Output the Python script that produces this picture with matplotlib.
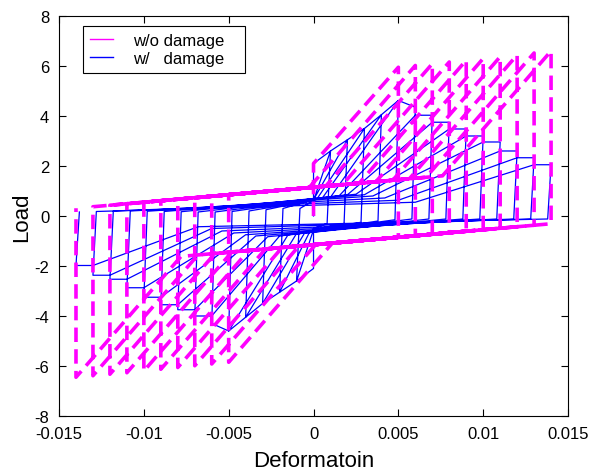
import matplotlib
matplotlib.use("Agg")
import matplotlib.pyplot as plt
from matplotlib.lines import Line2D

plt.rcParams["font.family"] = ["Liberation Sans", "DejaVu Sans"]
plt.rcParams["axes.unicode_minus"] = False

# ---- w/o damage (bilinear slip model), one cycle per amplitude ----
mag_amp = [0.005, 0.006, 0.007, 0.008, 0.009, 0.010, 0.011, 0.012, 0.013, 0.014]
mag_pos_peak = [5.95, 6.02, 6.09, 6.16, 6.23, 6.30, 6.37, 6.44, 6.52, 6.60]
mag_neg_peak = [-5.85, -5.92, -5.99, -6.06, -6.13, -6.20, -6.27, -6.33, -6.39, -6.45]
# point on the slip line where reloading toward the peak starts
mag_pos_start_x = [0.0, -0.00026, 0.00072, 0.00171, 0.00269, 0.00368, 0.00467, 0.00565, 0.00663, 0.0076]
mag_pos_start_y = [2.1, 1.134, 1.193, 1.253, 1.311, 1.371, 1.430, 1.489, 1.548, 1.606]
mag_neg_start_x = [0.00111, 0.000125, -0.00086, -0.00185, -0.00283, -0.00382, -0.00481, -0.00581, -0.00681, -0.00781]
mag_neg_start_y = [-1.083, -1.142, -1.202, -1.261, -1.320, -1.379, -1.438, -1.498, -1.558, -1.618]
# load reached after (vertical) unloading, magnitude
mag_res = [0.85, 0.79, 0.73, 0.67, 0.61, 0.55, 0.49, 0.43, 0.37, 0.31]

# ---- w/ damage (pinched, strength degrading) ----
blue_amp = [0.001, 0.002, 0.003, 0.004, 0.005, 0.006, 0.007, 0.008, 0.009,
            0.010, 0.011, 0.012, 0.013, 0.014]
blue_pos_peak = [2.6, 3.05, 3.5, 4.05, 4.62, 4.35, 4.03, 3.75, 3.48, 3.2, 2.96, 2.6, 2.33, 2.05]
blue_pos_reload = [2.1, 2.6, 3.05, 3.5, 4.05, 4.62, 4.03, 3.75, 3.48, 3.2, 2.96, 2.6, 2.33, 2.05]
blue_neg_peak = [-2.6, -3.05, -3.5, -4.05, -4.6, -4.3, -4.0, -3.75, -3.55, -3.25, -2.87, -2.53, -2.37, -1.98]
blue_neg_reload = [-2.1, -2.6, -3.05, -3.5, -4.05, -4.6, -4.0, -3.75, -3.55, -3.25, -2.87, -2.53, -2.37, -1.98]
blue_pos_pinch_x = [0.0, 0.0, 0.0, 0.0002, 0.0005, 0.001, 0.0015, 0.002, 0.0025, 0.003, 0.0035, 0.0042, 0.005, 0.006]
blue_pos_pinch_y = [0.0, 0.62, 0.65, 0.68, 0.7, 0.75, 0.8, 0.85, 0.87, 0.85, 0.8, 0.72, 0.63, 0.55]
blue_neg_pinch_x = [0.0, 0.0, -0.0002, -0.0005, -0.001, -0.0015, -0.002, -0.0027, -0.0034, -0.004, -0.0047, -0.0054, -0.006, -0.0068]
blue_neg_pinch_y = [-0.5, -0.55, -0.6, -0.65, -0.7, -0.75, -0.8, -0.83, -0.8, -0.75, -0.68, -0.6, -0.5, -0.43]
blue_res_bot = [-0.3, -0.3, -0.25, -0.2, -0.15, -0.12, -0.12, -0.12, -0.12, -0.12, -0.12, -0.12, -0.12, -0.12]
blue_res_top = [0.3, 0.3, 0.25, 0.2, 0.18, 0.16, 0.16, 0.17, 0.18, 0.19, 0.2, 0.2, 0.18, 0.16]
blue_unload_shift = 0.0002

xticks = [-0.015, -0.01, -0.005, 0, 0.005, 0.01, 0.015]
xtick_labels = ["-0.015", "-0.01", "-0.005", "0", "0.005", "0.01", "0.015"]
yticks = [-8, -6, -4, -2, 0, 2, 4, 6, 8]
legend_labels = ["w/o damage   ", "w/   damage   "]


def build_mag_path():
    xs, ys = [0.0], [0.0]
    for i, a in enumerate(mag_amp):
        if i > 0:
            xs += [-mag_amp[i - 1]]
            ys += [mag_res[i - 1]]
        xs += [mag_pos_start_x[i], a, a, mag_neg_start_x[i], -a]
        ys += [mag_pos_start_y[i], mag_pos_peak[i], -mag_res[i], mag_neg_start_y[i], mag_neg_peak[i]]
    xs += [-mag_amp[-1]]
    ys += [mag_res[-1]]
    return xs, ys


def build_blue_path():
    xs, ys = [0.0], [0.0]
    for i, a in enumerate(blue_amp):
        prev = blue_amp[i - 1] if i > 0 else 0.0
        if i > 0:
            xs += [-prev + blue_unload_shift]
            ys += [blue_res_top[i - 1]]
        xs += [blue_pos_pinch_x[i], prev, a, a - blue_unload_shift,
               blue_neg_pinch_x[i], -prev, -a]
        ys += [blue_pos_pinch_y[i], blue_pos_reload[i], blue_pos_peak[i], blue_res_bot[i],
               blue_neg_pinch_y[i], blue_neg_reload[i], blue_neg_peak[i]]
    xs += [-blue_amp[-1] + blue_unload_shift]
    ys += [blue_res_top[-1]]
    return xs, ys


fig = plt.figure(figsize=(5.89, 4.77), dpi=100)
ax = fig.add_axes([0.1002, 0.1258, 0.8642, 0.8386])

bx, by = build_blue_path()
mx, my = build_mag_path()
ax.plot(bx, by, color="#0000FF", lw=0.9)
ax.plot(mx, my, color="#FF00FF", lw=2.6, linestyle=(0, (4, 2)))

ax.set_xlim(-0.015, 0.015)
ax.set_ylim(-8, 8)
ax.set_xticks(xticks)
ax.set_xticklabels(xtick_labels)
ax.set_yticks(yticks)
ax.tick_params(direction="in", length=5, width=0.8, top=True, right=True,
               labelsize=12)
ax.tick_params(axis="y", pad=7)
ax.tick_params(axis="x", pad=7)
for s in ax.spines.values():
    s.set_linewidth(0.8)

ax.set_xlabel("Deformatoin", fontsize=16, labelpad=7)
ax.set_ylabel("Load", fontsize=16, labelpad=2)

handles = [Line2D([], [], color="#FF00FF", lw=1.0),
           Line2D([], [], color="#0000FF", lw=1.0)]
leg = ax.legend(handles, legend_labels, loc="upper left",
                bbox_to_anchor=(0.047, 0.975), borderaxespad=0, fontsize=12,
                fancybox=False, framealpha=1, edgecolor="black",
                handlelength=1.4, handletextpad=1.2, labelspacing=0.2,
                borderpad=0.4)
leg.get_frame().set_linewidth(0.8)

fig.savefig("out.png", dpi=100)
